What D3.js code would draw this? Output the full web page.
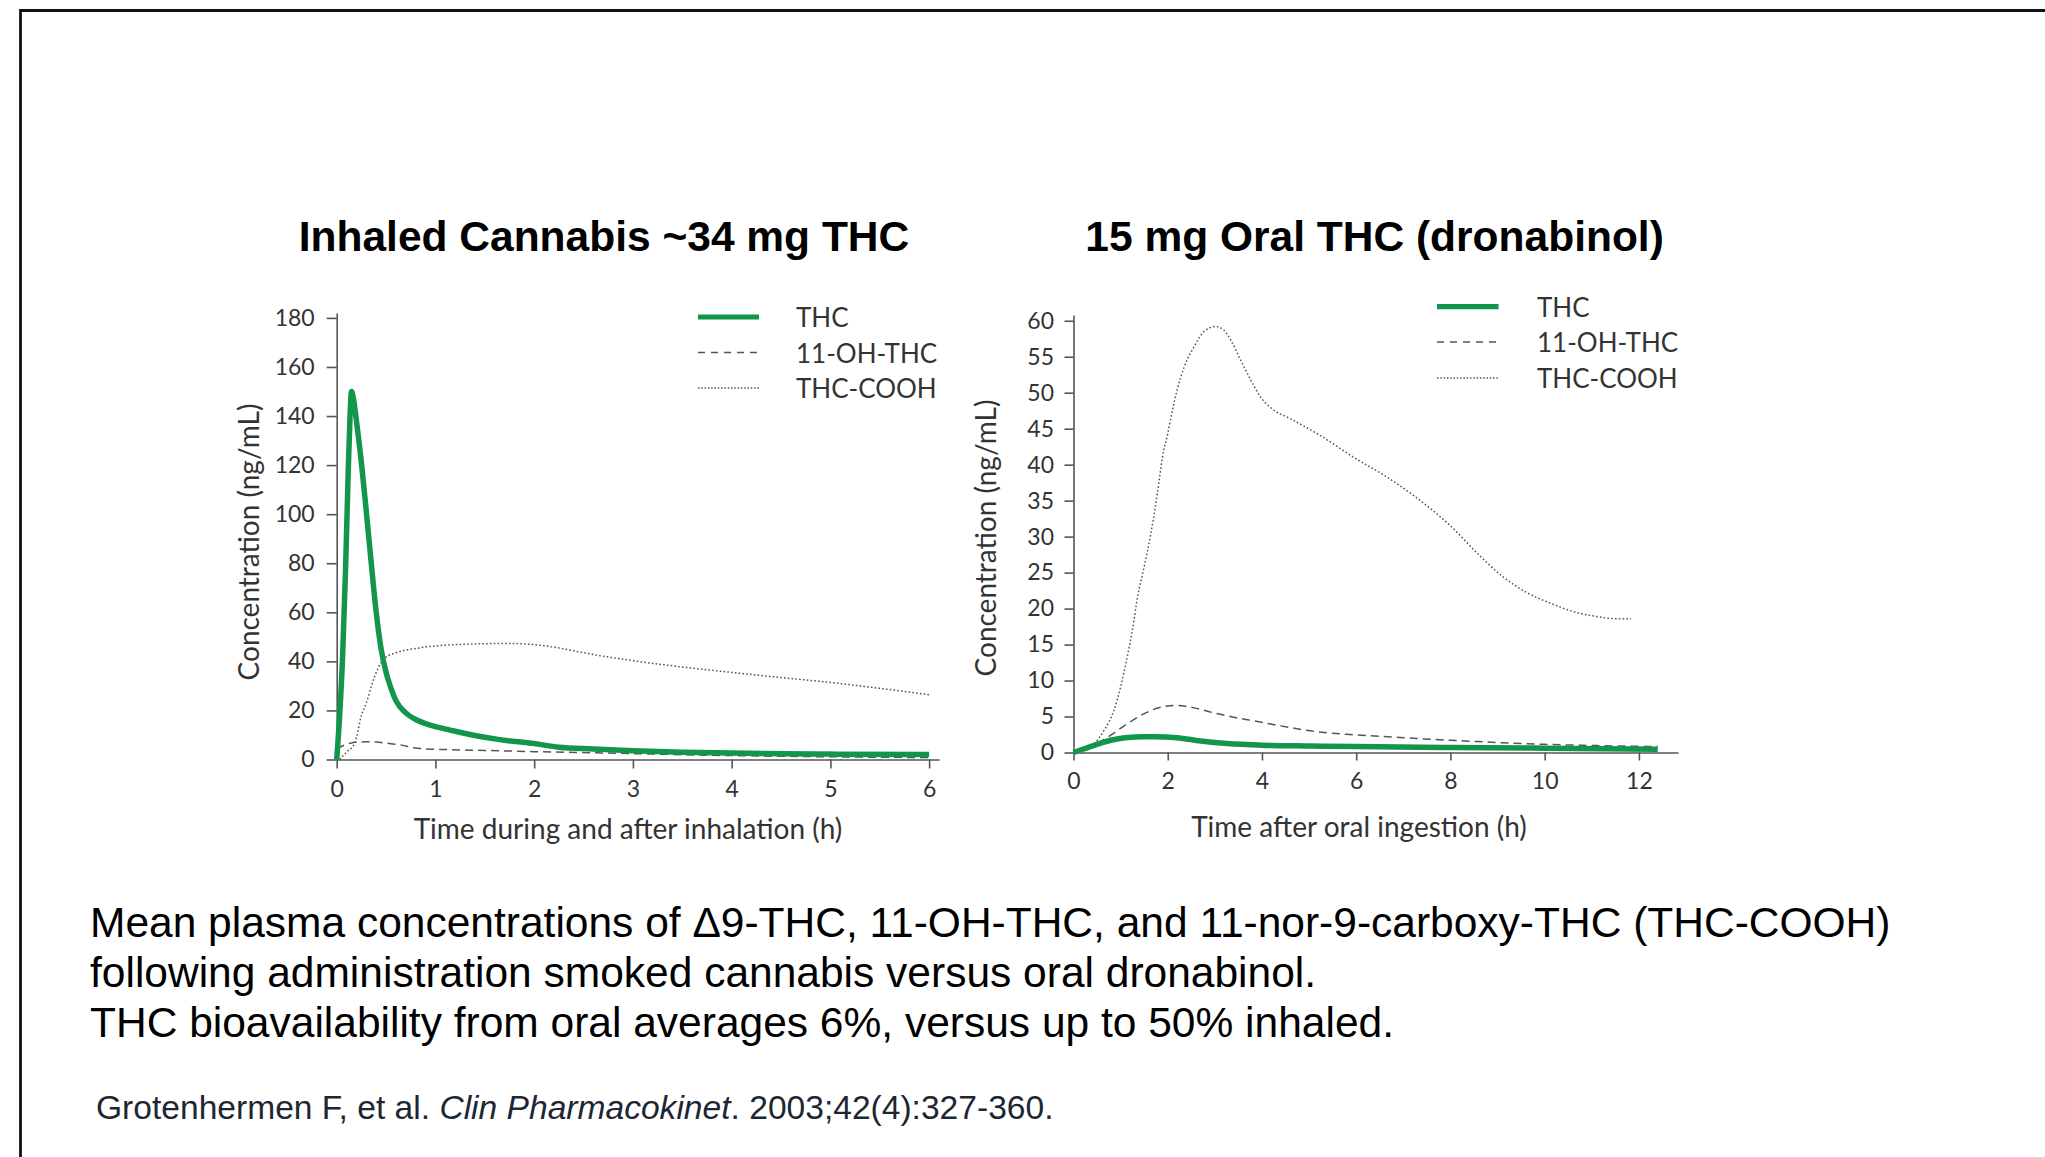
<!DOCTYPE html>
<html><head><meta charset="utf-8">
<script src="https://cdn.jsdelivr.net/npm/d3@7"></script>
<style>
html,body{margin:0;padding:0;background:#fff;}
svg{display:block;}
</style></head>
<body>
<svg id="c" width="2045" height="1157"></svg>
<script>
// ---------------- DATA ----------------
const seriesNames = ["THC", "11-OH-THC", "THC-COOH"];

const inhaledTitle = "Inhaled Cannabis ~34 mg THC";
const oralTitle = "15 mg Oral THC (dronabinol)";
const inhaledXLabel = "Time during and after inhalation (h)";
const oralXLabel = "Time after oral ingestion (h)";
const yLabel = "Concentration (ng/mL)";

const inhaledXTicks = [0, 1, 2, 3, 4, 5, 6];
const inhaledYTicks = [0, 20, 40, 60, 80, 100, 120, 140, 160, 180];
const oralXTicks = [0, 2, 4, 6, 8, 10, 12];
const oralYTicks = [0, 5, 10, 15, 20, 25, 30, 35, 40, 45, 50, 55, 60];

// [hours, ng/mL]
const inhaledTHC = [[0,0],[0.03,18],[0.06,42],[0.09,78],[0.115,115],[0.135,140],[0.15,150],[0.17,147],[0.2,138],[0.25,121],[0.3,101],[0.35,80],[0.4,60],[0.45,45],[0.5,35.5],[0.55,29],[0.6,24],[0.7,19],[0.8,16.3],[0.9,14.6],[1.0,13.4],[1.15,12],[1.4,9.8],[1.65,8.1],[2.0,6.5],[2.25,5.0],[2.6,4.3],[3.0,3.6],[3.5,3.0],[4.0,2.6],[5.0,2.2],[6.0,2.0]];
const inhaled11OH = [[0,4.5],[0.1,6.2],[0.185,7.0],[0.3,7.2],[0.405,7.1],[0.5,6.7],[0.64,6.0],[0.78,4.8],[0.9,4.3],[1.15,4.0],[1.5,3.7],[2.0,3.2],[2.67,2.7],[3.0,2.4],[4.0,1.6],[5.0,1.1],[6.0,0.8]];
const inhaledCOOH = [[0.03,0],[0.1,3],[0.185,6.8],[0.25,18],[0.3,23],[0.36,31],[0.42,37.3],[0.49,41.4],[0.6,43.5],[0.81,45.3],[1.0,46.3],[1.25,46.9],[1.5,47.2],[1.75,47.3],[2.0,46.8],[2.2,45.8],[2.4,44.3],[2.67,42.3],[3.0,40.3],[3.5,37.7],[4.0,35.5],[4.5,33.4],[5.0,31.4],[5.5,29.0],[6.0,26.4]];

const oralTHC = [[0,0],[0.44,1.0],[0.79,1.7],[1.14,2.1],[1.5,2.2],[1.71,2.2],[2.2,2.05],[2.7,1.6],[3.27,1.25],[3.69,1.1],[4.0,1.0],[5.0,0.9],[6.0,0.82],[8.0,0.68],[10.0,0.6],[12.4,0.45]];
const oral11OH = [[0,0],[0.3,0.5],[0.51,1.3],[0.79,2.4],[1.14,4.0],[1.5,5.4],[1.85,6.3],[2.17,6.55],[2.56,6.2],[2.98,5.5],[3.4,4.9],[3.83,4.4],[4.4,3.7],[5.27,2.8],[6.0,2.45],[7.0,2.05],[8.0,1.7],[9.1,1.36],[10.0,1.14],[10.8,1.0],[12.4,0.82]];
const oralCOOH = [[0,0],[0.44,1.25],[0.65,3.1],[0.86,5.9],[1.0,9.1],[1.14,13.3],[1.25,17],[1.36,21.6],[1.5,25.8],[1.64,30.4],[1.78,36],[1.89,41.1],[2.0,44.3],[2.1,47.6],[2.2,50.4],[2.35,53.6],[2.56,56.4],[2.77,58.5],[3.02,59.2],[3.19,58.7],[3.34,57.3],[3.55,54.5],[3.76,51.8],[3.97,49.4],[4.25,47.6],[4.6,46.4],[5.2,44.2],[6.0,40.8],[6.6,38.5],[7.2,35.8],[8.0,31.5],[8.6,27.5],[9.1,24.5],[9.6,22.3],[10.1,20.8],[10.6,19.6],[11.1,18.9],[11.5,18.6],[11.83,18.6]];

const captionLines = [
  "Mean plasma concentrations of \u03949-THC, 11-OH-THC, and 11-nor-9-carboxy-THC (THC-COOH)",
  "following administration smoked cannabis versus oral dronabinol.",
  "THC bioavailability from oral averages 6%, versus up to 50% inhaled."
];

// ---------------- STYLE / LAYOUT ----------------
const GREEN = "#12964b";
const GREY = "#555555";
const TXT = "#333333";
const FONT = "Lato, 'Open Sans', sans-serif";

const svg = d3.select("#c");

// slide border (top + left)
svg.append("path")
  .attr("d", "M20.5,1157 L20.5,10.5 L2045,10.5")
  .attr("fill", "none").attr("stroke", "#111").attr("stroke-width", 2.8);

const styles = [
  {stroke: GREEN, width: 5.5, dash: null},
  {stroke: GREY, width: 1.5, dash: "8,5"},
  {stroke: GREY, width: 1.5, dash: "1.6,2.2"}
];

function drawPanel(cfg) {
  const g = svg.append("g");
  const x = d3.scaleLinear().domain([0, cfg.xMax]).range([cfg.x0, cfg.x1]);
  const y = d3.scaleLinear().domain([0, cfg.yMax]).range([cfg.y0, cfg.y1]);

  // title
  svg.append("text")
    .attr("x", cfg.titleX).attr("y", 251)
    .attr("text-anchor", "middle")
    .attr("font-family", "'Liberation Sans', Arial, sans-serif")
    .attr("font-weight", "bold").attr("font-size", 42.5)
    .attr("fill", "#000").text(cfg.title);

  const xa = g.append("g").attr("transform", `translate(0,${cfg.y0})`)
    .call(d3.axisBottom(x).tickValues(cfg.xTicks).tickSize(cfg.xTickSize).tickSizeOuter(0).tickPadding(cfg.xPad).tickFormat(d3.format("d")));
  const ya = g.append("g").attr("transform", `translate(${cfg.x0},0)`)
    .call(d3.axisLeft(y).tickValues(cfg.yTicks).tickSize(cfg.yTickSize).tickSizeOuter(0).tickPadding(cfg.yPad).tickFormat(d3.format("d")));
  [xa, ya].forEach(a => {
    a.attr("font-family", FONT).attr("font-size", 23);
    a.select(".domain").attr("stroke", GREY).attr("stroke-width", 1.6);
    a.selectAll(".tick line").attr("stroke", GREY).attr("stroke-width", 1.6);
    a.selectAll(".tick text").attr("fill", TXT);
  });

  // axis titles
  g.append("text")
    .attr("x", cfg.xLabelX).attr("y", cfg.xLabelY)
    .attr("text-anchor", "middle").attr("dominant-baseline", "central")
    .attr("font-family", FONT).attr("font-size", 28).attr("fill", TXT)
    .text(cfg.xLabel);
  g.append("text")
    .attr("transform", `translate(${cfg.yLabelX},${cfg.yLabelY}) rotate(-90)`)
    .attr("text-anchor", "middle").attr("dominant-baseline", "central")
    .attr("font-family", FONT).attr("font-size", 28).attr("fill", TXT)
    .text(yLabel);

  // curves
  const line = d3.line().x(d => x(d[0])).y(d => y(d[1])).curve(d3.curveMonotoneX);
  const order = [2, 1, 0];
  order.forEach(i => {
    const s = styles[i];
    g.append("path").datum(cfg.series[i])
      .attr("d", line)
      .attr("fill", "none")
      .attr("stroke", s.stroke)
      .attr("stroke-width", s.width)
      .attr("stroke-linejoin", "round")
      .attr("stroke-dasharray", s.dash);
  });

  // legend
  const lg = g.append("g");
  seriesNames.forEach((name, i) => {
    const s = styles[i];
    const yy = cfg.legY[i];
    lg.append("line")
      .attr("x1", cfg.legX0).attr("x2", cfg.legX1)
      .attr("y1", yy).attr("y2", yy)
      .attr("stroke", s.stroke).attr("stroke-width", i === 0 ? 5.2 : 1.5)
      .attr("stroke-dasharray", i === 1 ? "7,6" : (i === 2 ? "1.5,1.8" : null));
    lg.append("text")
      .attr("x", cfg.legTX).attr("y", yy)
      .attr("dominant-baseline", "central")
      .attr("font-family", FONT).attr("font-size", 26).attr("fill", TXT)
      .text(name);
  });
}

drawPanel({
  title: inhaledTitle, titleX: 604,
  xMax: 6.10, x0: 336.7, x1: 939,
  yMax: 182, y0: 759.5, y1: 313,
  xTicks: inhaledXTicks, yTicks: inhaledYTicks,
  xTickSize: 9, xPad: 12, yTickSize: 10, yPad: 12,
  xLabel: inhaledXLabel, xLabelX: 628, xLabelY: 828,
  yLabelX: 248, yLabelY: 542,
  series: [inhaledTHC, inhaled11OH, inhaledCOOH],
  legX0: 698, legX1: 759, legTX: 796, legY: [317, 352.5, 388]
});

drawPanel({
  title: oralTitle, titleX: 1374.6,
  xMax: 12.83, x0: 1073.5, x1: 1678,
  yMax: 60.8, y0: 752.5, y1: 315,
  xTicks: oralXTicks, yTicks: oralYTicks,
  xTickSize: 8, xPad: 12, yTickSize: 9, yPad: 10.5,
  xLabel: oralXLabel, xLabelX: 1359, xLabelY: 826,
  yLabelX: 984.7, yLabelY: 538,
  series: [oralTHC, oral11OH, oralCOOH],
  legX0: 1437, legX1: 1498.6, legTX: 1537, legY: [306.7, 342, 378]
});

// caption
const cap = svg.append("text")
  .attr("font-family", "'Liberation Sans', Arial, sans-serif")
  .attr("font-size", 42.5).attr("fill", "#000");
captionLines.forEach((t, i) => {
  cap.append("tspan").attr("x", 90).attr("y", 937 + i * 50).text(t);
});

// citation
const cit = svg.append("text")
  .attr("x", 96).attr("y", 1119)
  .attr("font-family", "'Liberation Sans', Arial, sans-serif")
  .attr("font-size", 33.6).attr("fill", "#1d2733");
cit.append("tspan").text("Grotenhermen F, et al. ");
cit.append("tspan").attr("font-style", "italic").text("Clin Pharmacokinet");
cit.append("tspan").text(". 2003;42(4):327-360.");
</script>
</body></html>
